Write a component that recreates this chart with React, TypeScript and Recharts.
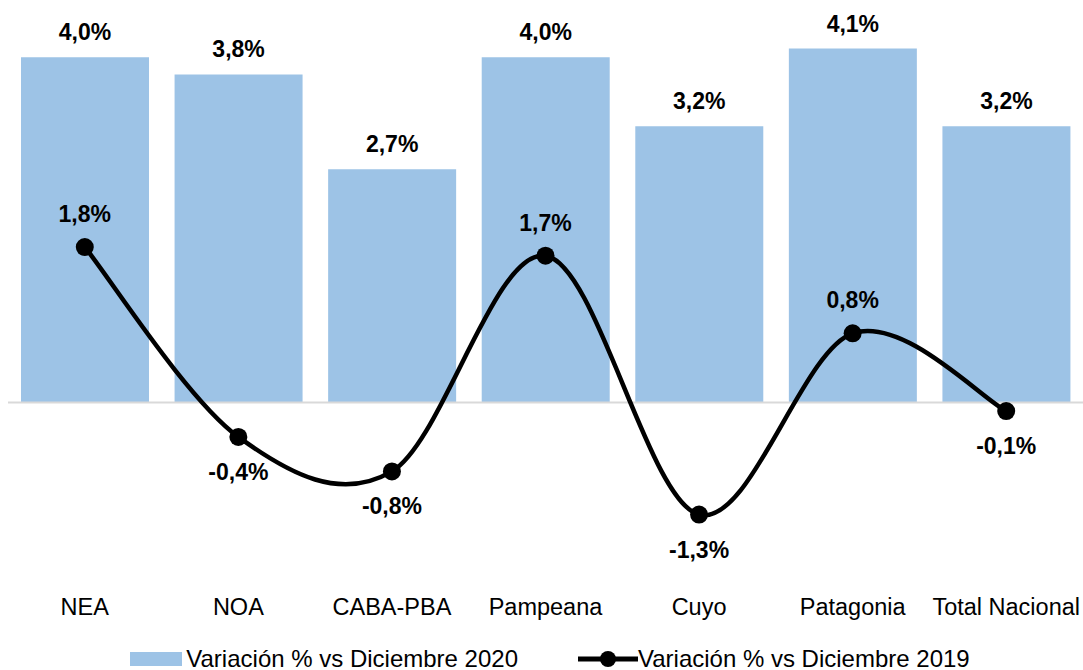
import React from 'react';
import { ComposedChart, Bar, Line, XAxis, YAxis, ReferenceLine, LabelList, Legend } from 'recharts';

const regions = ['NEA', 'NOA', 'CABA-PBA', 'Pampeana', 'Cuyo', 'Patagonia', 'Total Nacional'];
const vsDic2020 = [4.0, 3.8, 2.7, 4.0, 3.2, 4.1, 3.2];
const vsDic2019 = [1.8, -0.4, -0.8, 1.7, -1.3, 0.8, -0.1];

const data = regions.map((name, i) => ({ name, v2020: vsDic2020[i], v2019: vsDic2019[i] }));

const BLUE = '#9DC3E6';
const FONT = '"Liberation Sans", Arial, sans-serif';

const fmt = (v: number) => `${v.toFixed(1).replace('.', ',')}%`;

// Excel-style smoothed line (Catmull-Rom through the points)
const excelSmooth = (context: any) => {
  let pts: [number, number][] = [];
  return {
    areaStart() {},
    areaEnd() {},
    lineStart() {
      pts = [];
    },
    point(x: number, y: number) {
      pts.push([+x, +y]);
    },
    lineEnd() {
      if (!pts.length) return;
      context.moveTo(pts[0][0], pts[0][1]);
      for (let i = 0; i < pts.length - 1; i++) {
        const p0 = pts[i - 1] || pts[i];
        const p1 = pts[i];
        const p2 = pts[i + 1];
        const p3 = pts[i + 2] || p2;
        context.bezierCurveTo(
          p1[0] + (p2[0] - p0[0]) / 6,
          p1[1] + (p2[1] - p0[1]) / 6,
          p2[0] - (p3[0] - p1[0]) / 6,
          p2[1] - (p3[1] - p1[1]) / 6,
          p2[0],
          p2[1]
        );
      }
    },
  };
};

const BarLabel = (props: any) => {
  const { x, y, width, value } = props;
  return (
    <text x={x + width / 2} y={y - 17} textAnchor="middle" fontSize={23} fontWeight="bold" fill="#000">
      {fmt(value)}
    </text>
  );
};

const LineLabel = (props: any) => {
  const { x, y, value } = props;
  const ty = value >= 0 ? y - 25 : y + 43;
  return (
    <text x={x} y={ty} textAnchor="middle" fontSize={23} fontWeight="bold" fill="#000">
      {fmt(value)}
    </text>
  );
};

const LegendContent = () => (
  <div
    style={{
      height: 40,
      paddingTop: 18,
      boxSizing: 'border-box',
      display: 'flex',
      justifyContent: 'center',
      alignItems: 'center',
      fontSize: 24,
      fontFamily: FONT,
      color: '#000',
      paddingLeft: 17,
    }}
  >
    <span style={{ display: 'inline-block', width: 52, height: 14, background: BLUE, marginRight: 4 }} />
    <span>Variación % vs Diciembre 2020</span>
    <svg width={60} height={20} style={{ marginLeft: 60 }}>
      <line x1={0} y1={10} x2={60} y2={10} stroke="#000" strokeWidth={5} />
      <circle cx={30} cy={10} r={8} fill="#000" />
    </svg>
    <span>Variación % vs Diciembre 2019</span>
  </div>
);

export default function App() {
  return (
    <div style={{ position: 'absolute', left: 0, top: 0, fontFamily: FONT }}>
      <ComposedChart
        width={1083}
        height={670}
        data={data}
        margin={{ top: 14, right: 0, bottom: 0, left: 8 }}
      >
        <XAxis
          dataKey="name"
          axisLine={false}
          tickLine={false}
          height={55}
          tickMargin={17}
          interval={0}
          tick={{ fontSize: 23.5, fill: '#000' }}
        />
        <YAxis hide domain={[-2, 4.5]} />
        <ReferenceLine y={0} stroke="#D9D9D9" strokeWidth={2} />
        <Bar dataKey="v2020" name="Variación % vs Diciembre 2020" fill={BLUE} barSize={128} isAnimationActive={false}>
          <LabelList dataKey="v2020" content={BarLabel} />
        </Bar>
        <Line
          dataKey="v2019"
          name="Variación % vs Diciembre 2019"
          type={excelSmooth as any}
          stroke="#000"
          strokeWidth={4.5}
          dot={{ r: 9, fill: '#000', stroke: '#000', strokeWidth: 0 }}
          activeDot={false}
          isAnimationActive={false}
        >
          <LabelList dataKey="v2019" content={LineLabel} />
        </Line>
        <Legend verticalAlign="bottom" content={LegendContent} wrapperStyle={{ left: 0, width: 1083 }} />
      </ComposedChart>
    </div>
  );
}
